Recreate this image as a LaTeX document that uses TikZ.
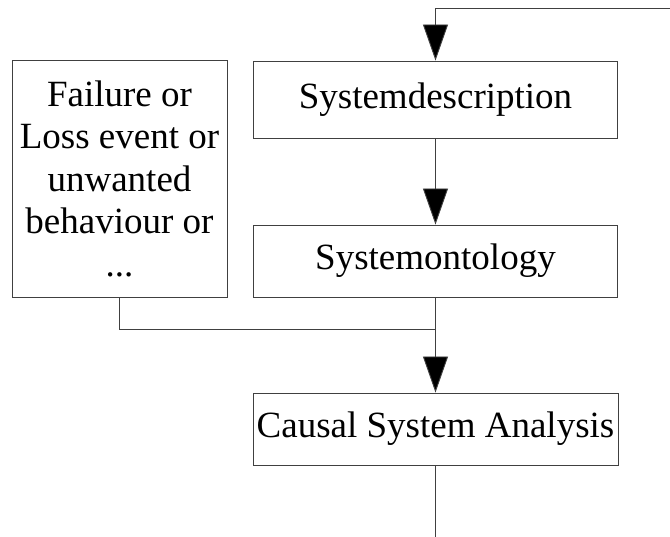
\documentclass[tikz,border=0pt]{standalone}
\usepackage{fontspec}
\setmainfont{Liberation Serif}
\usetikzlibrary{arrows.meta}
\tikzset{
  box/.style={draw=black!75, line width=0.9pt, inner sep=0pt, align=center,
    font=\fontsize{37}{42.5}\selectfont},
  conn/.style={draw=black!75, line width=0.9pt},
  arr/.style={conn, -{Triangle[width=25pt,length=36pt,fill=black]}}
}
\begin{document}
\begin{tikzpicture}[x=1pt,y=-1pt]
\useasboundingbox (0,0) rectangle (670,537);
\node[box, minimum width=364pt, minimum height=77pt] (sd) at (435.5,99.5) {Systemdescription};
\node[box, minimum width=364pt, minimum height=72pt] (so) at (435.5,261) {Systemontology};
\node[box, minimum width=215pt, minimum height=237pt] (fail) at (119.5,178.5) {Failure or\\Loss event or\\unwanted\\behaviour or\\...};
\node[box, minimum width=365pt, minimum height=72pt] (csa) at (435.5,429) {Causal System Analysis};
\coordinate (topR) at (670,8);
\coordinate (j) at (435.5,329);
\coordinate (bot) at (435.5,537);
\draw[arr] (topR) -- (sd.north |- topR) -- (sd.north);
\draw[arr] (sd.south) -- (so.north);
\draw[conn] (fail.south) |- (j);
\draw[arr] (so.south) -- (csa.north);
\draw[conn] (csa.south) -- (bot);
\end{tikzpicture}
\end{document}
